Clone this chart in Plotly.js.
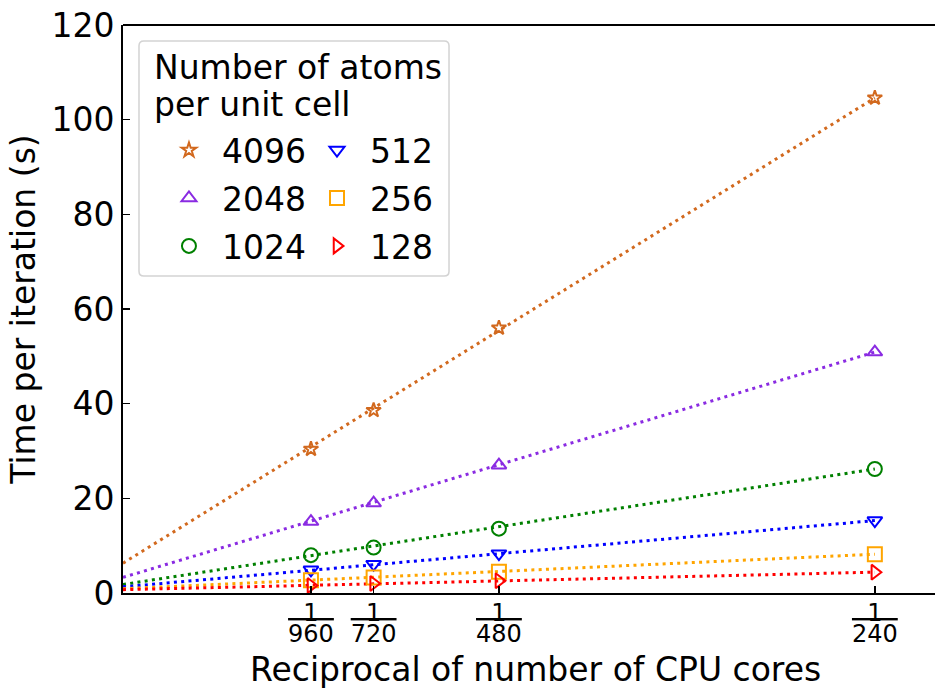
<!DOCTYPE html>
<html>
<head>
<meta charset="utf-8">
<script src="https://cdn.plot.ly/plotly-3.0.1.min.js"></script>
<style>html,body{margin:0;padding:0;background:#fff;}#chart{width:935px;height:689px;}</style>
</head>
<body>
<div id="chart"></div>
<script>
// x positions: reciprocal of number of CPU cores
var cores = [960, 720, 480, 240];
var tickNumer = ["1", "1", "1", "1"];
var tickDenoms = ["960", "720", "480", "240"];
var seriesNames = ["4096", "2048", "1024", "512", "256", "128"];
var seriesColors = ["#D2691E", "#8A2BE2", "#008000", "#0000FF", "#FFA500", "#FF0000"];
var seriesSymbols = ["star-open", "triangle-up-open", "circle-open", "triangle-down-open", "square-open", "triangle-right-open"];
var markerSizes = [11, 13, 14, 13, 14, 13];
// time per iteration (s)
var t4096 = [30.4, 38.6, 56.0, 104.6];
var t2048 = [15.1, 19.0, 27.0, 50.9];
var t1024 = [8.0, 9.6, 13.6, 26.2];
var t512  = [4.9, 6.1, 8.3, 15.3];
var t256  = [2.7, 3.3, 4.5, 8.2];
var t128  = [1.6, 2.0, 2.6, 4.4];
// linear fit lines: value at x = 0 and at x = 1/240
var fitStart = [6.3, 3.3, 1.8, 1.3, 0.9, 0.7];
var fitEnd   = [104.6, 50.9, 26.2, 15.3, 8.2, 4.4];
var yTicks = [0, 20, 40, 60, 80, 100, 120];
var legendTitle = ["Number of atoms", "per unit cell"];
var xTitle = "Reciprocal of number of CPU cores";
var yTitle = "Time per iteration (s)";

var allSeries = [t4096, t2048, t1024, t512, t256, t128];
var xs = cores.map(function(c){ return 1 / c; });
var fitX = [0, 1 / 240];
var denomText = tickDenoms.map(function(d){ return '<span style="text-decoration:overline">' + d + '</span>'; });

var traces = [];
for (var i = 0; i < allSeries.length; i++) {
  traces.push({
    x: fitX, y: [fitStart[i], fitEnd[i]], type: "scatter", mode: "lines",
    line: {color: seriesColors[i], width: 3, dash: "3px,4.3px"},
    showlegend: false, hoverinfo: "skip"
  });
}
for (var j = 0; j < allSeries.length; j++) {
  traces.push({
    x: xs, y: allSeries[j], type: "scatter", mode: "markers", name: seriesNames[j],
    xaxis: "x2", legendgroup: "g" + j,
    marker: {symbol: seriesSymbols[j], size: markerSizes[j], color: seriesColors[j], line: {width: 2, color: seriesColors[j]}},
    legend: j < 3 ? "legend" : "legend2"
  });
}

var font = "DejaVu Sans, sans-serif";
var fs = 33;
var legendCommon = {
  yanchor: "top", xanchor: "left", bgcolor: "rgba(0,0,0,0)", borderwidth: 0,
  font: {family: font, size: fs, color: "#000"}, itemwidth: 56, tracegroupgap: 2
};
var leg1 = Object.assign({x: 0.0406, y: 0.829}, legendCommon);
var leg2 = Object.assign({x: 0.2229, y: 0.829}, legendCommon);

// legend frame (rounded), in paper units
var bx0 = 0.0197, bx1 = 0.4015, by0 = 0.558, by1 = 0.9718, rx = 0.006, ry = 0.0085;
var framePath = "M" + (bx0 + rx) + "," + by1 + " L" + (bx1 - rx) + "," + by1 +
  " Q" + bx1 + "," + by1 + " " + bx1 + "," + (by1 - ry) + " L" + bx1 + "," + (by0 + ry) +
  " Q" + bx1 + "," + by0 + " " + (bx1 - rx) + "," + by0 + " L" + (bx0 + rx) + "," + by0 +
  " Q" + bx0 + "," + by0 + " " + bx0 + "," + (by0 + ry) + " L" + bx0 + "," + (by1 - ry) +
  " Q" + bx0 + "," + by1 + " " + (bx0 + rx) + "," + by1 + " Z";

var layout = {
  width: 935, height: 689,
  margin: {l: 123, r: 0, t: 25, b: 96},
  paper_bgcolor: "#fff", plot_bgcolor: "#fff",
  font: {family: font, size: fs, color: "#000"},
  showlegend: true,
  xaxis: {
    range: [0, 0.0045], showgrid: false, zeroline: false,
    showline: true, linecolor: "#000", linewidth: 2,
    tickmode: "array", tickvals: xs, ticktext: tickNumer,
    ticks: "inside", ticklen: 7, tickwidth: 1.5, tickcolor: "#000",
    tickfont: {family: font, size: 24, color: "#000"}, ticklabelstandoff: -3
  },
  xaxis2: {
    overlaying: "x", anchor: "y", side: "bottom",
    range: [0, 0.0045], showgrid: false, zeroline: false, showline: false,
    tickmode: "array", tickvals: xs, ticktext: denomText, ticks: "",
    tickfont: {family: font, size: 24, color: "#000"}, ticklabelstandoff: 24
  },
  yaxis: {
    range: [0, 120], showgrid: false, zeroline: false,
    showline: true, linecolor: "#000", linewidth: 2,
    tickmode: "array", tickvals: yTicks,
    ticks: "inside", ticklen: 7, tickwidth: 1.5, tickcolor: "#000",
    tickfont: {family: font, size: fs, color: "#000"},
    title: {text: yTitle, font: {family: font, size: fs, color: "#000"}, standoff: 6}
  },
  shapes: [
    {type: "line", xref: "paper", yref: "paper", x0: 0, x1: 1, y0: 1, y1: 1, line: {color: "#000", width: 2}},
    {type: "path", xref: "paper", yref: "paper", path: framePath, fillcolor: "rgba(255,255,255,0.8)", line: {color: "#d3d3d3", width: 1.5}, layer: "above"}
  ],
  annotations: [
    {xref: "paper", yref: "paper", x: 0.0357, y: 0.9243, xanchor: "left", yanchor: "middle", showarrow: false, text: legendTitle[0], font: {family: font, size: fs, color: "#000"}},
    {xref: "paper", yref: "paper", x: 0.0357, y: 0.8592, xanchor: "left", yanchor: "middle", showarrow: false, text: legendTitle[1], font: {family: font, size: fs, color: "#000"}},
    {xref: "paper", yref: "paper", x: 0.508, y: -0.0975, xanchor: "center", yanchor: "top", showarrow: false, text: xTitle, font: {family: font, size: fs, color: "#000"}}
  ],
  legend: leg1,
  legend2: leg2
};

Plotly.newPlot("chart", traces, layout, {displayModeBar: false, staticPlot: true});
</script>
</body>
</html>
